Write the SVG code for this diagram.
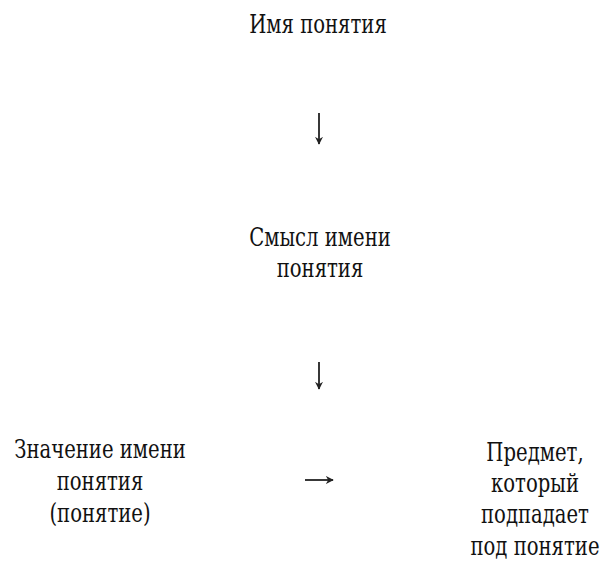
<svg xmlns="http://www.w3.org/2000/svg" width="608" height="563" viewBox="0 0 608 563">
<style>
text{font-family:'DejaVu Serif',serif;font-size:26px;fill:#111;text-anchor:middle}
.c{stroke:#222;stroke-width:1.8;fill:none}
</style>
<defs>
<marker id="ah" viewBox="0 0 10 10" refX="9" refY="5" markerWidth="8" markerHeight="8" orient="auto" markerUnits="userSpaceOnUse">
<path d="M0,0 L10,5 L0,10 L3,5 Z" fill="#222"/>
</marker>
</defs>
<rect width="608" height="563" fill="#fff"/>
<g id="n1" transform="translate(318,0) scale(0.755,1)"><text x="0" y="33">Имя понятия</text></g>
<g id="n2" transform="translate(320,0) scale(0.755,1)"><text x="0" y="246">Смысл имени</text><text x="0" y="277">понятия</text></g>
<g id="n3" transform="translate(100,0) scale(0.755,1)"><text x="0" y="458">Значение имени</text><text x="0" y="490">понятия</text><text x="0" y="522">(понятие)</text></g>
<g id="n4" transform="translate(535,0) scale(0.755,1)"><text x="0" y="461">Предмет,</text><text x="0" y="492">который</text><text x="0" y="523">подпадает</text><text x="0" y="555">под понятие</text></g>
<g id="connectors">
<path class="c" d="M319,113 V144" marker-end="url(#ah)"/>
<path class="c" d="M319,362 V389" marker-end="url(#ah)"/>
<path class="c" d="M305,480 H333" marker-end="url(#ah)"/>
</g>
</svg>
